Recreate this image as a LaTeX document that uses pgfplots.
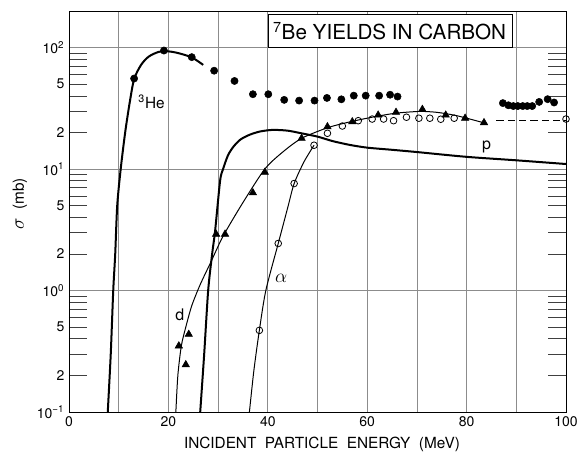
\documentclass[border=0pt]{standalone}
\usepackage{fontspec}
\setmainfont{TeX Gyre Heros}
\usepackage{pgfplots}
\pgfplotsset{compat=1.18}

\begin{document}
\begin{tikzpicture}
\begin{axis}[
  name=ax,
  scale only axis,
  width=372.75pt, height=300.75pt,
  xmin=0, xmax=100,
  ymode=log, ymin=0.1, ymax=200,
  xtick={0,10,...,100},
  xticklabels={0,,20,,40,,60,,80,,100},
  ytick={0.1,1,10,100},
  yticklabels={10\textsuperscript{−1},10\textsuperscript{0},10\textsuperscript{1},10\textsuperscript{2}},
  minor ytick={0.2,0.3,0.4,0.5,0.6,0.7,0.8,0.9,2,3,4,5,6,7,8,9,20,30,40,50,60,70,80,90},
  extra y ticks={0.2,0.5,2,5,20,50},
  extra y tick labels={2,5,2,5,2,5},
  extra y tick style={grid=none},
  grid=major,
  major grid style={black!45, line width=0.5pt},
  major tick length=0pt,
  minor tick length=13.5pt,
  minor tick style={black!75, line width=0.55pt},
  tick align=inside,
  axis line style={line width=0.7pt},
  tick label style={font=\fontsize{10.5}{12}\selectfont},
  xlabel={INCIDENT\ \ PARTICLE\ \ ENERGY\ \ (MeV)},
  ylabel={\fontsize{15}{16}\selectfont$\sigma$\fontsize{11.5}{13}\selectfont\ \ (mb)},
  label style={font=\fontsize{11.5}{13}\selectfont},
  xlabel style={at={(axis description cs:0.509,-0.082)}, anchor=center},
  ylabel style={at={(axis description cs:-0.099,0.519)}, anchor=center},
  clip=true,
]
% title box
\draw[fill=white, line width=0.6pt] (axis cs:40.2,100) rectangle (axis cs:89.2,186);
\node[font=\fontsize{15.5}{17}\selectfont] at (axis cs:64.5,137) {\textsuperscript{7}Be YIELDS IN CARBON};

% 3He curve
\addplot[black, line width=1.5pt, smooth, tension=0.45] coordinates {
  (7.8,0.1) (8.4,0.3) (8.9,1) (9.3,2) (9.7,5) (10.4,10) (11.3,20) (12.2,35)
  (13.1,55) (14.5,72) (16,84) (18,92) (20,93) (22,90) (24.7,83) (27,72)
};
% p curve
\addplot[black, line width=1.5pt, smooth, tension=0.45] coordinates {
  (26.4,0.1) (27.2,0.3) (28,1) (28.8,2) (29.4,3.1) (30.4,8) (31,10) (32,13)
  (33.1,15.3) (34.5,17.5) (36.4,19.2) (38.5,20.4) (41,21) (44,20.7) (47,19.6)
  (50,18.5) (53,17) (56.5,15.8) (60,15) (65,14.4) (70,13.8) (80,12.6) (90,11.8) (100,11)
};
% d curve
\addplot[black, line width=0.75pt, smooth, tension=0.45] coordinates {
  (21.5,0.1) (21.9,0.2) (22.6,0.35) (23.5,0.5) (24.7,0.75) (26.4,1.12) (28.5,1.7)
  (31,2.8) (35,5.3) (39.4,10) (43,13.8) (46.8,17.9) (52.2,22) (57.2,24.8)
  (62.2,27.3) (66,28.9) (70.6,29.8) (74,29.3) (78,27.5) (83.5,24)
};
% alpha curve
\addplot[black, line width=0.75pt, smooth, tension=0.45] coordinates {
  (36.3,0.1) (37.2,0.22) (38.3,0.47) (39.6,1) (42.1,2.44) (44,4.8) (45.3,7.6)
  (47.3,11.5) (49.3,15.7)
};
% dashed line
\addplot[black, line width=0.9pt, dash pattern=on 5.5pt off 3pt] coordinates {(86,25) (100,25)};

% 3He data
\addplot[only marks, mark=*, mark size=2.7pt, black] coordinates {
  (13.1,55.6) (19.1,94.5) (24.7,83.4) (29.2,64.5) (33.3,53.1) (37.0,41.3) (40.1,41.3)
  (43.3,37.1) (46.3,36.6) (49.4,36.6) (51.9,38.5) (54.8,37.5) (57.3,40.2) (59.7,40.2)
  (62.4,40.2) (64.6,40.9) (66.1,39.5) (87.3,34.9) (88.4,33.5) (89.4,33.0) (90.3,33.0)
  (91.3,33.0) (92.2,33.0) (93.2,33.0) (94.6,35.7) (96.3,37.6) (97.6,35.3)
};
% d data
\addplot[only marks, mark=triangle*, mark size=3.2pt, black] coordinates {
  (22.1,0.35) (23.5,0.245) (24.1,0.436) (29.6,2.91) (31.4,2.91) (37.0,6.38) (39.4,9.4)
  (46.8,17.9) (52.0,22.3) (57.0,24.5) (62.2,27.8) (65.8,29.3) (71.1,31.0) (75.8,27.8)
  (79.7,26.2) (83.5,24.1)
};
% alpha data
\addplot[only marks, mark=o, mark size=2.5pt, black, line width=0.6pt, mark options={fill=white}] coordinates {
  (38.3,0.47) (42.1,2.44) (45.3,7.6) (49.3,15.7) (52.0,19.7) (55.0,22.6) (58.2,25)
  (61.0,25.8) (63.3,25.8) (65.3,25.0) (67.9,26.7) (70.4,26.2) (72.6,26.2) (74.8,25.7)
  (77.5,26.2) (100,25.8)
};

\node[font=\fontsize{11.5}{13}\selectfont] at (axis cs:16.6,36) {\textsuperscript{3}He};
\node[font=\fontsize{12}{13}\selectfont] at (axis cs:84,15.3) {p};
\node[font=\fontsize{12}{13}\selectfont] at (axis cs:22.3,0.63) {d};
\node[font=\fontsize{15}{16}\selectfont] at (axis cs:42.7,1.27) {$\alpha$};
\end{axis}
\pgfresetboundingbox
\path (ax.south west) ++(-51.75pt,-35.25pt) rectangle ++(435pt,344.25pt);
\end{tikzpicture}
\end{document}
